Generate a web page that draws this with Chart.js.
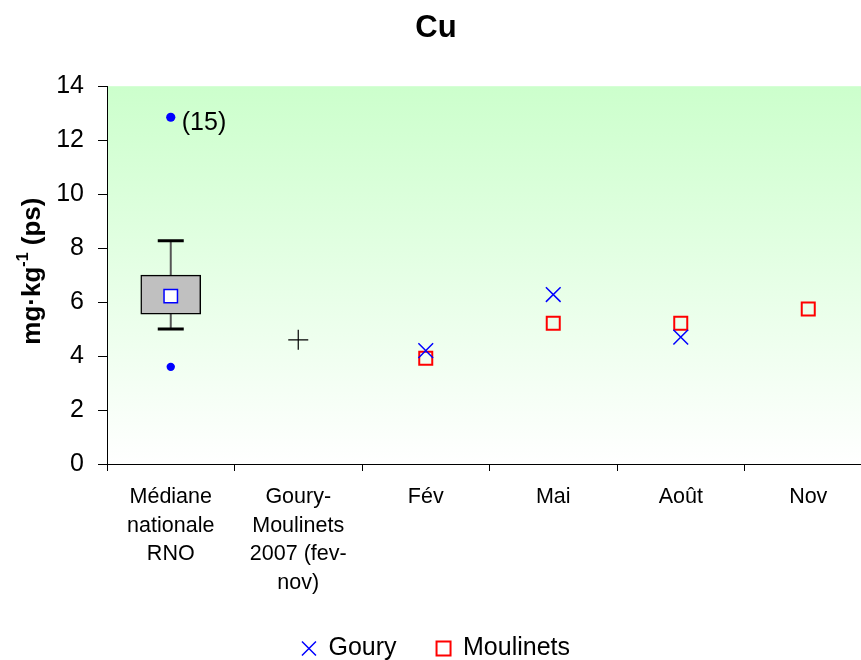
<!DOCTYPE html>
<html>
<head>
<meta charset="utf-8">
<script src="https://cdn.jsdelivr.net/npm/chart.js"></script>
<style>
  *{box-sizing:border-box;margin:0;padding:0}
  html,body{background:#fff;overflow:hidden;width:861px;height:660px}
  .wrap{position:relative;width:872px;height:671px}
</style>
</head>
<body>
<div class="wrap"><canvas id="chart"></canvas></div>
<script>
// categories along the x axis
const categories = [
  ["Médiane", "nationale", "RNO"],
  ["Goury-", "Moulinets", "2007 (fev-", "nov)"],
  "Fév", "Mai", "Août", "Nov"
];
const yTicks = { min: 0, max: 14, step: 2 };

// national RNO box plot (first category)
const boxRange = [5.55, 7.0];
const whiskers = [5.0, 8.27];
const medianRNO = [6.22, null, null, null, null, null];
const outliers = [12.85, 3.6];
const outlierLabel = "(15)";

// Goury-Moulinets 2007 (second category)
const mean2007 = [null, 4.6, null, null, null, null];

// seasonal samples
const goury = [null, null, 4.2, 6.28, 4.7, null];
const moulinets = [null, null, 3.92, 5.22, 5.22, 5.74];

const yTitle = ["mg·kg", "-1", " (ps)"];
const FONT = "'Liberation Sans', Arial, sans-serif";
Chart.defaults.font.family = FONT;
Chart.defaults.color = "#000";
// markers must not push the plot area in from the right edge
Chart.registry.getController("line").prototype.getMaxOverflow = () => 0;

const bgPlugin = {
  id: "bg",
  beforeDraw(chart) {
    const { ctx, chartArea: a } = chart;
    const g = ctx.createLinearGradient(0, a.top, 0, a.bottom);
    g.addColorStop(0, "#ccffcc");
    g.addColorStop(1, "#ffffff");
    ctx.save();
    ctx.fillStyle = g;
    ctx.fillRect(a.left, a.top, a.right - a.left, a.bottom - a.top);
    ctx.restore();
  }
};

const whiskerPlugin = {
  id: "whiskers",
  beforeDatasetsDraw(chart) {
    const { ctx } = chart;
    const xs = chart.scales.x, ys = chart.scales.y;
    const x = xs.getPixelForValue(0);
    const lo = ys.getPixelForValue(whiskers[0]), hi = ys.getPixelForValue(whiskers[1]);
    ctx.save();
    ctx.strokeStyle = "#555";
    ctx.lineWidth = 2;
    ctx.beginPath(); ctx.moveTo(x, lo); ctx.lineTo(x, hi); ctx.stroke();
    ctx.strokeStyle = "#000";
    ctx.lineWidth = 3;
    ctx.beginPath();
    ctx.moveTo(x - 13, lo); ctx.lineTo(x + 13, lo);
    ctx.moveTo(x - 13, hi); ctx.lineTo(x + 13, hi);
    ctx.stroke();
    ctx.restore();
  },
  afterDatasetsDraw(chart) {
    const { ctx } = chart;
    const x = chart.scales.x.getPixelForValue(0);
    const y = chart.scales.y.getPixelForValue(outliers[0]);
    ctx.save();
    ctx.font = "25px " + FONT;
    ctx.fillStyle = "#000";
    ctx.textBaseline = "middle";
    ctx.textAlign = "left";
    ctx.fillText(outlierLabel, x + 11, y + 6);
    ctx.restore();
  }
};

const yTitlePlugin = {
  id: "yTitle",
  afterDraw(chart) {
    const { ctx, chartArea: a } = chart;
    const big = "bold 26px " + FONT, small = "bold 16px " + FONT;
    ctx.save();
    ctx.translate(33, (a.top + a.bottom) / 2 - 4);
    ctx.rotate(-Math.PI / 2);
    ctx.fillStyle = "#000";
    ctx.textBaseline = "middle";
    ctx.textAlign = "left";
    ctx.font = big;
    const w1 = ctx.measureText(yTitle[0]).width, w3 = ctx.measureText(yTitle[2]).width;
    ctx.font = small;
    const w2 = ctx.measureText(yTitle[1]).width;
    let px = -(w1 + w2 + w3) / 2;
    ctx.font = big; ctx.fillText(yTitle[0], px, 0); px += w1;
    ctx.font = small; ctx.fillText(yTitle[1], px, -9); px += w2;
    ctx.font = big; ctx.fillText(yTitle[2], px, 0);
    ctx.restore();
  }
};

const pts = (data, extra) => Object.assign({
  type: "line", data, showLine: false, spanGaps: false
}, extra);

new Chart(document.getElementById("chart"), {
  type: "bar",
  data: {
    labels: categories,
    datasets: [
      pts(medianRNO, { label: "median", pointStyle: "rect", pointRadius: 9.5, borderWidth: 1.5,
        pointBorderColor: "#0000ff", pointBackgroundColor: "#fff", borderColor: "#0000ff", backgroundColor: "#fff" }),
      pts(goury, { label: "Goury", pointStyle: "crossRot", pointRadius: 10.4, borderWidth: 1.5,
        pointBorderColor: "#0000ff", borderColor: "#0000ff", backgroundColor: "#0000ff" }),
      pts(moulinets, { label: "Moulinets", pointStyle: "rect", pointRadius: 9.2, borderWidth: 2,
        pointBorderColor: "#ff0000", borderColor: "#ff0000", pointBackgroundColor: "rgba(0,0,0,0)", backgroundColor: "rgba(0,0,0,0)" }),
      pts(mean2007, { label: "2007", pointStyle: "cross", pointRadius: 10, borderWidth: 1.2,
        pointBorderColor: "#000", borderColor: "#000" }),
      pts([outliers[0], null, null, null, null, null], { label: "out1", pointStyle: "circle", pointRadius: 4.6,
        borderWidth: 0, pointBackgroundColor: "#0000ff", backgroundColor: "#0000ff" }),
      pts([outliers[1], null, null, null, null, null], { label: "out2", pointStyle: "circle", pointRadius: 4.2,
        borderWidth: 0, pointBackgroundColor: "#0000ff", backgroundColor: "#0000ff" }),
      { label: "box", data: [boxRange, null, null, null, null, null], backgroundColor: "#c0c0c0",
        borderColor: "#000", borderWidth: 1.5, borderSkipped: false, barThickness: 60, grouped: false }
    ]
  },
  options: {
    responsive: true, maintainAspectRatio: false, animation: false,
    layout: { padding: 0 },
    plugins: {
      tooltip: { enabled: false },
      title: { display: true, text: "Cu", color: "#000", font: { size: 31, weight: "bold" }, padding: { top: 10, bottom: 39 } },
      legend: {
        position: "bottom",
        labels: {
          usePointStyle: true, boxWidth: 14, boxHeight: 14, padding: 40, color: "#000",
          font: { size: 25 },
          filter: item => item.text === "Goury" || item.text === "Moulinets"
        }
      }
    },
    scales: {
      x: {
        offset: true,
        grid: { offset: true, drawOnChartArea: false, tickLength: 7, color: "#000" },
        border: { color: "#000", width: 1 },
        ticks: { font: { size: 21.5, lineHeight: 1.33 }, padding: 12, maxRotation: 0, autoSkip: false, color: "#000" },
        afterFit: s => { s.height = 132; s.paddingLeft = 0; s.paddingRight = 0; }
      },
      y: {
        min: yTicks.min, max: yTicks.max,
        grid: { drawOnChartArea: false, tickLength: 9, color: "#000" },
        border: { color: "#000", width: 1 },
        ticks: { stepSize: yTicks.step, font: { size: 25 }, padding: 14, color: "#000" },
        afterFit: s => { s.width = 107; }
      }
    }
  },
  plugins: [bgPlugin, whiskerPlugin, yTitlePlugin]
});
</script>
</body>
</html>
